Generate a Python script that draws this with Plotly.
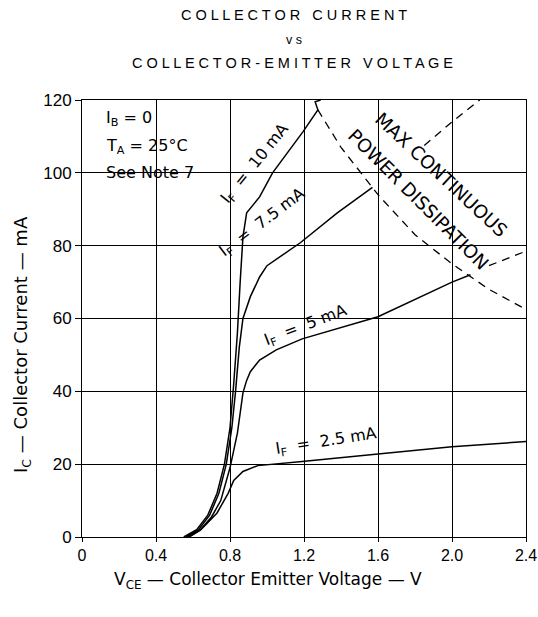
import plotly.graph_objects as go

# ---- data ----
v_10 = [0.55, 0.62, 0.68, 0.73, 0.77, 0.80, 0.82, 0.84, 0.855, 0.87, 0.89, 0.96, 1.03, 1.195, 1.275, 1.26, 1.29]
i_10 = [0, 2, 6, 12, 20, 30, 42, 56, 70, 82.4, 89, 93.4, 100, 111.3, 117.3, 119.5, 120]

v_75 = [0.56, 0.63, 0.69, 0.74, 0.78, 0.81, 0.83, 0.85, 0.87, 0.91, 0.96, 1.0, 1.18, 1.38, 1.57]
i_75 = [0, 2, 6, 12, 20, 30, 40, 52, 60, 66, 71.4, 74.5, 80.8, 89, 96]

v_5 = [0.57, 0.64, 0.70, 0.75, 0.80, 0.84, 0.87, 0.89, 0.91, 0.96, 1.05, 1.19, 1.6, 2.0, 2.1]
i_5 = [0, 2, 5.5, 10, 19, 28.5, 39.6, 43, 45.4, 48.6, 51.4, 54.4, 60.5, 70, 72]

v_25 = [0.58, 0.64, 0.73, 0.79, 0.82, 0.87, 0.95, 1.19, 1.6, 2.0, 2.4]
i_25 = [0, 1.9, 6.6, 12, 15.5, 18, 19.6, 20.7, 22.8, 24.8, 26.2]

v_pd = [1.275, 1.4, 1.6, 1.8, 2.0, 2.2, 2.4]
i_pd = [117.3, 107, 94, 83, 75, 68, 62.5]

v_da = [1.85, 2.0, 2.15]
i_da = [107.5, 114, 120]
v_db = [2.2, 2.4]
i_db = [74.5, 78.5]

x_ticks = [0, 0.4, 0.8, 1.2, 1.6, 2.0, 2.4]
x_ticktext = ["0", "0.4", "0.8", "1.2", "1.6", "2.0", "2.4"]
y_ticks = [0, 20, 40, 60, 80, 100, 120]

FONT = "DejaVu Sans, Liberation Sans, Arial, sans-serif"
TFONT = "Liberation Sans, Arial, sans-serif"

fig = go.Figure()
for vx, iy in [(v_10, i_10), (v_75, i_75), (v_5, i_5), (v_25, i_25)]:
    fig.add_trace(go.Scatter(x=vx, y=iy, mode="lines", line=dict(color="black", width=1.5),
                             showlegend=False, hoverinfo="skip"))
for vx, iy in [(v_pd, i_pd), (v_da, i_da), (v_db, i_db)]:
    fig.add_trace(go.Scatter(x=vx, y=iy, mode="lines",
                             line=dict(color="black", width=1.3, dash="8px,6px"),
                             showlegend=False, hoverinfo="skip"))

W, H = 538, 617
L, R, T, B = 82, 12, 100, 80
PW, PH = W - L - R, H - T - B

fig.update_layout(
    width=W, height=H,
    margin=dict(l=L, r=R, t=T, b=B),
    paper_bgcolor="white", plot_bgcolor="white",
    font=dict(family=FONT, color="black", size=16),
    xaxis=dict(range=[0, 2.4], tickvals=x_ticks, ticktext=x_ticktext,
               showgrid=True, gridcolor="black", gridwidth=1,
               showline=True, linecolor="black", linewidth=1, mirror=True,
               ticks="outside", ticklen=4, tickcolor="black", automargin=False,
               zeroline=False, tickfont=dict(size=16, family=TFONT)),
    yaxis=dict(range=[0, 120], tickvals=y_ticks,
               showgrid=True, gridcolor="black", gridwidth=1,
               showline=True, linecolor="black", linewidth=1, mirror=True,
               ticks="outside", ticklen=6, tickcolor="black", automargin=False,
               zeroline=False, tickfont=dict(size=17, family=TFONT)),
)

def px_ann(text, x, y, size=16, xanchor="center", angle=0, family=FONT):
    fig.add_annotation(text=text, x=(x - L) / PW, y=(H - B - y) / PH, xref="paper", yref="paper",
                       showarrow=False, xanchor=xanchor, yanchor="middle",
                       textangle=angle, font=dict(size=size, family=family, color="black"))

# title
px_ann("C O L L E C T O R   C U R R E N T", 294, 15, size=14.5, family=TFONT)
px_ann("v s", 294, 40, size=12.5, family=TFONT)
px_ann("C O L L E C T O R - E M I T T E R   V O L T A G E", 292, 63, size=14.5, family=TFONT)

# axis titles
px_ann("V<sub>CE</sub> — Collector Emitter Voltage — V", 268, 580, size=17)
px_ann("I<sub>C</sub> — Collector Current — mA", 22, 345, size=18, angle=-90)

# conditions
px_ann("I<sub>B</sub> = 0", 104, 119, size=16, xanchor="left")
px_ann("T<sub>A</sub> = 25°C", 104, 146, size=16, xanchor="left")
px_ann("See Note 7", 104, 172, size=16, xanchor="left")

def data_ann(text, x, y, angle, size=16):
    fig.add_annotation(text=text, x=x, y=y, xref="x", yref="y", showarrow=False,
                       textangle=angle, font=dict(size=size, family=FONT, color="black"))

data_ann("I<sub>F</sub>  =  10 mA", 0.935, 102.7, -51)
data_ann("I<sub>F</sub>  =  7.5 mA", 0.975, 86.5, -37)
data_ann("I<sub>F</sub>  =  5 mA", 1.21, 58.2, -21)
data_ann("I<sub>F</sub>  =  2.5 mA", 1.32, 26.3, -9)
data_ann("MAX CONTINUOUS", 1.94, 99.5, 43, size=18.5)
data_ann("POWER DISSIPATION", 1.82, 92.8, 45, size=18.5)

fig.write_html("out.html")
